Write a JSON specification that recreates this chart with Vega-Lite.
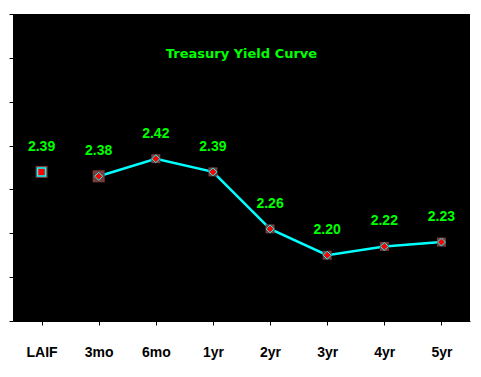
{
  "$schema": "https://vega.github.io/schema/vega-lite/v6.json",
  "width": 457,
  "height": 307,
  "autosize": "none",
  "padding": {"left": 13, "top": 14, "right": 11, "bottom": 56},
  "background": "white",
  "config": {"view": {"fill": "black", "stroke": null}},
  "title": {
    "text": "Treasury Yield Curve",
    "font": "DejaVu Sans",
    "fontSize": 13,
    "fontWeight": "bold",
    "color": "#00ff00",
    "anchor": "middle",
    "baseline": "middle",
    "offset": -53,
    "frame": "group"
  },
  "data": {
    "values": [
      {"term": "LAIF", "yield": 2.39},
      {"term": "3mo", "yield": 2.38},
      {"term": "6mo", "yield": 2.42},
      {"term": "1yr", "yield": 2.39},
      {"term": "2yr", "yield": 2.26},
      {"term": "3yr", "yield": 2.20},
      {"term": "4yr", "yield": 2.22},
      {"term": "5yr", "yield": 2.23}
    ]
  },
  "encoding": {
    "x": {
      "field": "term",
      "type": "nominal",
      "sort": ["LAIF", "3mo", "6mo", "1yr", "2yr", "3yr", "4yr", "5yr"],
      "scale": {"paddingInner": 0, "paddingOuter": 0},
      "axis": {
        "title": null,
        "labelAngle": 0,
        "labelFont": "Liberation Sans",
        "labelFontSize": 14,
        "labelFontWeight": "bold",
        "labelColor": "black",
        "labelBaseline": "middle",
        "labelPadding": 27,
        "tickSize": 4,
        "tickColor": "black",
        "domainColor": "black",
        "bandPosition": 0,
        "grid": false
      }
    },
    "y": {
      "field": "yield",
      "type": "quantitative",
      "scale": {"domain": [2.05, 2.75], "nice": false, "zero": false},
      "axis": {
        "title": null,
        "labels": false,
        "values": [2.05, 2.15, 2.25, 2.35, 2.45, 2.55, 2.65, 2.75],
        "tickSize": 4,
        "tickColor": "black",
        "domainColor": "black",
        "grid": false
      }
    }
  },
  "layer": [
    {
      "transform": [{"filter": "datum.term !== 'LAIF'"}],
      "mark": {"type": "line", "color": "#00ffff", "strokeWidth": 2.5}
    },
    {
      "mark": {"type": "point", "shape": "square", "filled": true, "color": "#7a3b3b", "opacity": 1},
      "encoding": {
        "size": {
          "condition": {"test": "datum.term === 'LAIF' || datum.term === '3mo'", "value": 144},
          "value": 81
        }
      }
    },
    {
      "transform": [{"filter": "datum.term === 'LAIF'"}],
      "mark": {"type": "point", "shape": "square", "filled": true, "fill": "#ff0000", "stroke": "#00ffff", "strokeWidth": 1.5, "size": 64, "opacity": 1}
    },
    {
      "transform": [{"filter": "datum.term !== 'LAIF'"}],
      "mark": {"type": "point", "shape": "diamond", "filled": true, "fill": "#ff0000", "stroke": "#00ffff", "strokeWidth": 1, "size": 64, "opacity": 1}
    },
    {
      "mark": {"type": "text", "font": "Liberation Sans", "fontSize": 14, "fontWeight": "bold", "color": "#00ff00", "baseline": "middle", "dy": -25},
      "encoding": {"text": {"field": "yield", "type": "quantitative", "format": ".2f"}}
    }
  ]
}
